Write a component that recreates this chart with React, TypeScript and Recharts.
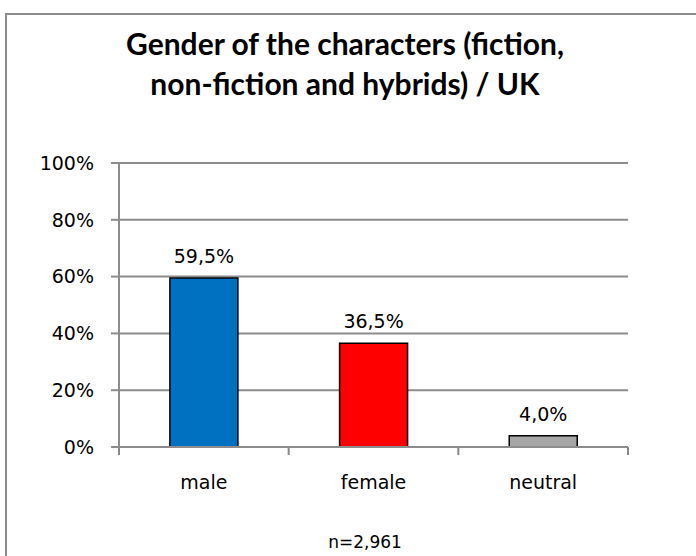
import React from 'react';
import { BarChart, Bar, XAxis, YAxis, CartesianGrid, LabelList, Cell } from 'recharts';

const categories = ['male', 'female', 'neutral'];
const shares = [0.595, 0.365, 0.04];
const barColors = ['#0070C0', '#FF0000', '#A6A6A6'];
const yTicks = [0, 0.2, 0.4, 0.6, 0.8, 1];

const data = categories.map((name, i) => ({ name, share: shares[i] }));

const FONT = '"DejaVu Sans", sans-serif';
const TITLE_FONT = 'Lato, "Open Sans", sans-serif';
const PLOT_LEFT = 119;
const PLOT_RIGHT = 628;
const halfBand = (PLOT_RIGHT - PLOT_LEFT) / categories.length / 2;

const pct = (v: number) => `${Math.round(v * 100)}%`;
const label = (v: any) => `${(Number(v) * 100).toFixed(1).replace('.', ',')}%`;

const CategoryTick = (props: any) => {
  const { x, y, payload, index } = props;
  const top = y - 8;
  return (
    <g>
      <line x1={x - halfBand} y1={top} x2={x - halfBand} y2={top + 8} stroke="#888" strokeWidth={2} />
      {index === categories.length - 1 && (
        <line x1={x + halfBand} y1={top} x2={x + halfBand} y2={top + 8} stroke="#888" strokeWidth={2} />
      )}
      <text x={x} y={top + 42} textAnchor="middle" fontSize={19} fill="#000" fontFamily={FONT}>
        {payload.value}
      </text>
    </g>
  );
};

export default function App() {
  return (
    <div style={{ position: 'absolute', left: 0, top: 0, width: 696, height: 556, background: '#fff', overflow: 'hidden' }}>
      <div style={{ position: 'absolute', left: 5, top: 13, right: -10, bottom: -10, borderTop: '2px solid #8c8c8c', borderLeft: '2px solid #8c8c8c' }} />
      <div style={{ position: 'absolute', left: 0, width: 690, top: 23, textAlign: 'center', fontFamily: TITLE_FONT, fontWeight: 700, fontSize: 30, lineHeight: '40px', color: '#000' }}>
        Gender of the characters (fiction,
        <br />
        non-fiction and hybrids) / UK
      </div>
      <BarChart
        width={696}
        height={556}
        data={data}
        margin={{ top: 163, right: 696 - PLOT_RIGHT, left: PLOT_LEFT - 80, bottom: 79 }}
        barCategoryGap="30%"
        style={{ position: 'absolute', left: 0, top: 0 }}
      >
        <CartesianGrid vertical={false} stroke="#8c8c8c" strokeWidth={2} />
        <YAxis
          width={80}
          domain={[0, 1]}
          ticks={yTicks}
          tickFormatter={pct}
          axisLine={{ stroke: '#8c8c8c', strokeWidth: 2 }}
          tickLine={{ stroke: '#8c8c8c', strokeWidth: 2 }}
          tickSize={8}
          tickMargin={17}
          tick={{ fontSize: 19, fill: '#000', fontFamily: FONT }}
          interval={0}
        />
        <XAxis
          dataKey="name"
          height={30}
          axisLine={{ stroke: '#8c8c8c', strokeWidth: 2 }}
          tickLine={false}
          tick={<CategoryTick />}
          interval={0}
        />
        <Bar dataKey="share" stroke="#000" strokeWidth={1.5} isAnimationActive={false}>
          {data.map((d, i) => (
            <Cell key={d.name} fill={barColors[i]} />
          ))}
          <LabelList dataKey="share" position="top" offset={15} formatter={label} fontSize={19} fill="#000" fontFamily={FONT} />
        </Bar>
      </BarChart>
      <div style={{ position: 'absolute', left: 315, width: 100, top: 532, textAlign: 'center', fontFamily: FONT, fontSize: 17, color: '#000' }}>
        n=2,961
      </div>
    </div>
  );
}
